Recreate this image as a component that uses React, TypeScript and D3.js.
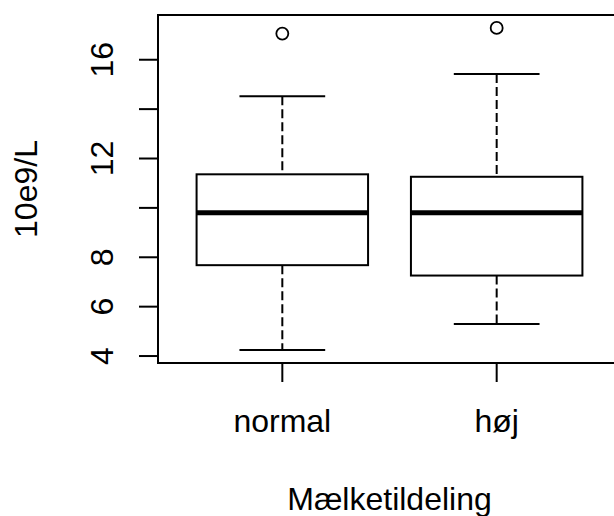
import React from 'react';
import * as d3 from 'd3';

// box statistics
const groups = ['normal', 'høj'];
const lowerWhisker = [4.24, 5.3];
const q1 = [7.68, 7.26];
const medians = [9.8, 9.8];
const q3 = [11.36, 11.26];
const upperWhisker = [14.52, 15.42];
const outliers = [[17.06], [17.29]];
const yTicks = [4, 6, 8, 10, 12, 14, 16];
const yTickLabels = ['4', '6', '8', '', '12', '', '16'];
const xTitle = 'Mælketildeling';
const yTitle = '10e9/L';

const W = 614;
const H = 516;
const plot = { left: 158, top: 15, bottom: 363 };
const font = '"Liberation Sans", Arial, sans-serif';
const fs = 32;

const App = () => {
  // R style: xlim = c(0.5, n + 0.5) widened by 4%
  const n = groups.length;
  const x = d3.scaleLinear()
    .domain([0.5 - 0.04 * n, n + 0.5 + 0.04 * n])
    .range([plot.left, plot.left + 463]);

  const all = [...lowerWhisker, ...upperWhisker, ...outliers.flat()];
  const [lo, hi] = d3.extent(all) as [number, number];
  const pad = (hi - lo) * 0.04;
  const y = d3.scaleLinear().domain([lo - pad, hi + pad]).range([plot.bottom, plot.top]);

  const boxW = x(1.4) - x(1);      // half of boxwex 0.8
  const capW = boxW / 2;
  const right = x.range()[1];

  return (
    <svg width={W} height={H} style={{ position: 'absolute', left: 0, top: 0, background: '#fff' }}
      fontFamily={font} fontSize={fs}>
      {groups.map((g, i) => {
        const cx = x(i + 1);
        return (
          <g key={g} stroke="#000" fill="none">
            <line x1={cx} x2={cx} y1={y(upperWhisker[i])} y2={y(q3[i])} strokeWidth={2} strokeDasharray="9,4" />
            <line x1={cx} x2={cx} y1={y(q1[i])} y2={y(lowerWhisker[i])} strokeWidth={2} strokeDasharray="9,4" />
            <line x1={cx - capW} x2={cx + capW} y1={y(upperWhisker[i])} y2={y(upperWhisker[i])} strokeWidth={2} />
            <line x1={cx - capW} x2={cx + capW} y1={y(lowerWhisker[i])} y2={y(lowerWhisker[i])} strokeWidth={2} />
            <rect x={cx - boxW} y={y(q3[i])} width={boxW * 2} height={y(q1[i]) - y(q3[i])} strokeWidth={2} />
            <line x1={cx - boxW} x2={cx + boxW} y1={y(medians[i])} y2={y(medians[i])} strokeWidth={5} />
            {outliers[i].map((v, j) => (
              <circle key={j} cx={cx} cy={y(v)} r={6} strokeWidth={1.8} />
            ))}
          </g>
        );
      })}

      {/* frame */}
      <rect x={plot.left} y={plot.top} width={right - plot.left} height={plot.bottom - plot.top}
        fill="none" stroke="#000" strokeWidth={2} />

      {/* y axis */}
      <g stroke="#000" strokeWidth={2}>
        <line x1={plot.left} x2={plot.left} y1={y(yTicks[0])} y2={y(yTicks[yTicks.length - 1])} />
        {yTicks.map(t => (
          <line key={t} x1={plot.left - 19} x2={plot.left} y1={y(t)} y2={y(t)} />
        ))}
      </g>
      {yTicks.map((t, i) => (
        <text key={t} transform={`translate(113,${y(t)}) rotate(-90)`} textAnchor="middle" fill="#000">
          {yTickLabels[i]}
        </text>
      ))}

      {/* x axis */}
      <g stroke="#000" strokeWidth={2}>
        {groups.map((g, i) => (
          <line key={g} x1={x(i + 1)} x2={x(i + 1)} y1={plot.bottom} y2={plot.bottom + 19} />
        ))}
      </g>
      {groups.map((g, i) => (
        <text key={g} x={x(i + 1)} y={432} textAnchor="middle" fill="#000">{g}</text>
      ))}

      <text x={(plot.left + right) / 2} y={510} textAnchor="middle" fill="#000">{xTitle}</text>
      <text transform={`translate(37,${(plot.top + plot.bottom) / 2}) rotate(-90)`} textAnchor="middle" fill="#000">
        {yTitle}
      </text>
    </svg>
  );
};

export default App;
